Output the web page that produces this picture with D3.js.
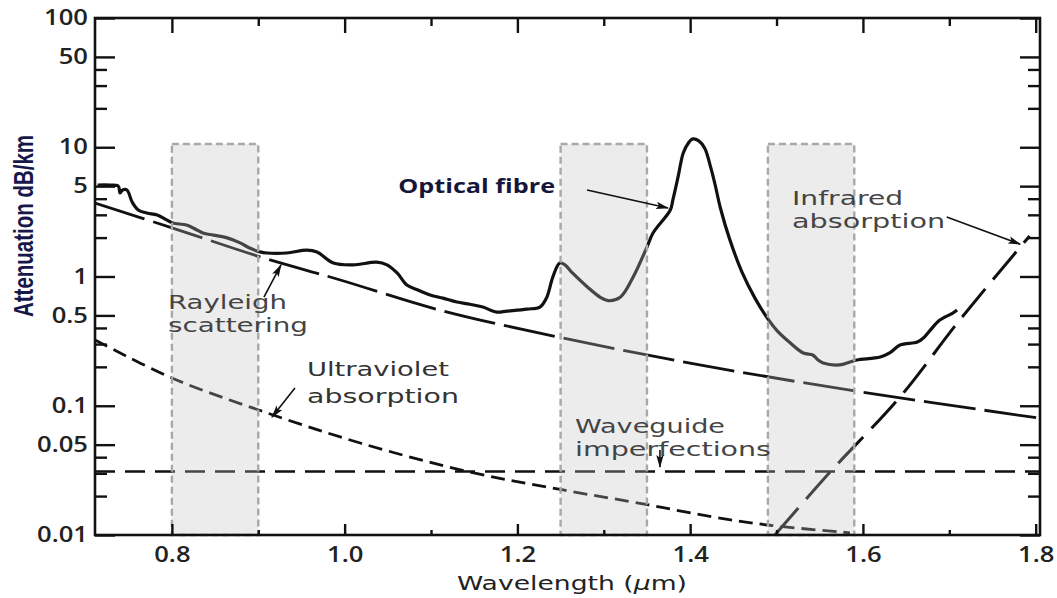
<!DOCTYPE html>
<html>
<head>
<meta charset="utf-8">
<script src="https://cdn.jsdelivr.net/npm/d3@7"></script>
<style>
  html, body { margin: 0; padding: 0; background: #fff; }
  svg { display: block; }
</style>
</head>
<body>
<svg id="chart" width="1057" height="598"></svg>
<script>
// ---- Data: attenuation (dB/km) against wavelength (µm) ----
const fibreWavelength = [0.714, 0.728, 0.738, 0.740, 0.743, 0.748, 0.754, 0.761, 0.771, 0.783,
  0.794, 0.801, 0.817, 0.829, 0.836, 0.848, 0.864, 0.879, 0.890, 0.902,
  0.910, 0.933, 0.956, 0.968, 0.987, 1.010, 1.037, 1.049, 1.061, 1.072,
  1.084, 1.099, 1.114, 1.130, 1.145, 1.160, 1.176, 1.188, 1.211, 1.226,
  1.234, 1.241, 1.249, 1.255, 1.264, 1.281, 1.296, 1.305, 1.319, 1.334,
  1.350, 1.357, 1.377, 1.380, 1.386, 1.392, 1.398, 1.403, 1.410, 1.417,
  1.423, 1.429, 1.435, 1.446, 1.460, 1.475, 1.489, 1.500, 1.516, 1.531,
  1.542, 1.548, 1.554, 1.573, 1.585, 1.593, 1.620, 1.631, 1.643, 1.663,
  1.670, 1.678, 1.689, 1.704, 1.709];
const fibreLoss = [5.1, 5.1, 5.0, 4.43, 4.67, 4.67, 3.77, 3.27, 3.10, 2.99,
  2.74, 2.59, 2.50, 2.29, 2.17, 2.09, 1.99, 1.82, 1.66, 1.55,
  1.52, 1.52, 1.60, 1.55, 1.27, 1.23, 1.29, 1.23, 1.06, 0.86,
  0.79, 0.72, 0.68, 0.635, 0.61, 0.58, 0.53, 0.54, 0.56, 0.58,
  0.69, 0.99, 1.27, 1.23, 1.06, 0.83, 0.69, 0.65, 0.69, 0.99,
  1.69, 2.17, 3.27, 3.91, 5.89, 9.03, 10.8, 11.6, 11.2, 9.8,
  7.3, 5.1, 3.39, 1.92, 1.08, 0.68, 0.48, 0.385, 0.306, 0.256,
  0.247, 0.226, 0.214, 0.207, 0.218, 0.226, 0.238, 0.256, 0.295, 0.311,
  0.334, 0.385, 0.46, 0.52, 0.55];

const rayleighWavelength = [0.711, 0.801, 0.902, 0.995, 1.110, 1.253, 1.411, 1.585, 1.805];
const rayleighLoss = [3.70, 2.37, 1.42, 0.94, 0.55, 0.334, 0.207, 0.132, 0.080];

const uvWavelength = [0.711, 0.800, 0.904, 1.018, 1.145, 1.253, 1.352, 1.426, 1.492, 1.585];
const uvLoss = [0.323, 0.164, 0.091, 0.0515, 0.0307, 0.0223, 0.0171, 0.0138, 0.0119, 0.0104];

const waveguideWavelength = [0.711, 1.805];
const waveguideLoss = [0.031, 0.031];

const irWavelength = [1.498, 1.562, 1.643, 1.712, 1.793];
const irLoss = [0.010, 0.0307, 0.117, 0.46, 2.06];

// transmission windows (µm)
const windowStart = [0.80, 1.25, 1.49];
const windowEnd = [0.90, 1.35, 1.59];
const windowTop = 10.6;

// ticks
const xTicks = [0.8, 1.0, 1.2, 1.4, 1.6, 1.8];
const xTickLabels = ["0.8", "1.0", "1.2", "1.4", "1.6", "1.8"];
const xMinorTicks = [0.9, 1.1, 1.3, 1.5, 1.7];
const yTicks = [100, 50, 10, 5, 1, 0.5, 0.1, 0.05, 0.01];
const yTickLabels = ["100", "50", "10", "5", "1", "0.5", "0.1", "0.05", "0.01"];
const yMinorTicks = [40, 30, 20, 4, 3, 2, 0.4, 0.3, 0.2, 0.04, 0.03, 0.02];

// ---- Drawing ----
const svg = d3.select("#chart");
const W = 1057, H = 598;
const pLeft = 95, pRight = 1040, pTop = 18, pBottom = 535;
const stretch = 1.22;   // wide lettering of the tick labels

svg.append("rect").attr("width", W).attr("height", H).attr("fill", "#fff");

const x = d3.scaleLinear().domain([0.711, 1.805]).range([pLeft, pRight]);
const y = d3.scaleLog().domain([0.01, 100]).range([pBottom, pTop]);

const defs = svg.append("defs");
defs.append("marker")
  .attr("id", "head")
  .attr("viewBox", "0 0 12 8")
  .attr("refX", 11).attr("refY", 4)
  .attr("markerWidth", 13).attr("markerHeight", 9)
  .attr("markerUnits", "userSpaceOnUse")
  .attr("orient", "auto")
  .append("path").attr("d", "M0,0.6 L12,4 L0,7.4 L2.5,4 Z").attr("fill", "#111");
defs.append("clipPath").attr("id", "clip")
  .append("rect").attr("x", pLeft).attr("y", pTop)
  .attr("width", pRight - pLeft).attr("height", pBottom - pTop);

const curve = d3.line()
  .x(d => x(d[0]))
  .y(d => y(d[1]))
  .curve(d3.curveCatmullRom.alpha(0.5));

const straight = d3.line().x(d => x(d[0])).y(d => y(d[1]));

const plot = svg.append("g");
const lines = plot.append("g").attr("clip-path", "url(#clip)");

// waveguide imperfections
lines.append("path")
  .datum(d3.zip(waveguideWavelength, waveguideLoss))
  .attr("d", straight)
  .attr("fill", "none").attr("stroke", "#111").attr("stroke-width", 2.6)
  .attr("stroke-dasharray", "20,10");

// ultraviolet absorption
lines.append("path")
  .datum(d3.zip(uvWavelength, uvLoss))
  .attr("d", curve)
  .attr("fill", "none").attr("stroke", "#111").attr("stroke-width", 2.8)
  .attr("stroke-dasharray", "14,7");

// Rayleigh scattering
lines.append("path")
  .datum(d3.zip(rayleighWavelength, rayleighLoss))
  .attr("d", curve)
  .attr("fill", "none").attr("stroke", "#111").attr("stroke-width", 2.8)
  .attr("stroke-dasharray", "52,9");

// infrared absorption
lines.append("path")
  .datum(d3.zip(irWavelength, irLoss))
  .attr("d", curve)
  .attr("fill", "none").attr("stroke", "#111").attr("stroke-width", 3)
  .attr("stroke-dasharray", "36,12");

// measured fibre loss
lines.append("path")
  .datum(d3.zip(fibreWavelength, fibreLoss))
  .attr("d", curve)
  .attr("fill", "none").attr("stroke", "#111").attr("stroke-width", 3.2)
  .attr("stroke-linejoin", "round");

// transmission windows
const windows = d3.zip(windowStart, windowEnd);
plot.selectAll("rect.window")
  .data(windows).join("rect")
  .attr("class", "window")
  .attr("x", d => x(d[0]))
  .attr("y", y(windowTop))
  .attr("width", d => x(d[1]) - x(d[0]))
  .attr("height", y(0.01) - y(windowTop))
  .attr("fill", "#c0c0c0").attr("fill-opacity", 0.3)
  .attr("stroke", "#a8a8a8").attr("stroke-width", 2.4)
  .attr("stroke-dasharray", "7,4");

// ---- Axes ----
function styleAxis(g) {
  g.select(".domain").remove();
  g.selectAll(".tick line").attr("stroke", "#111").attr("stroke-width", 2.4);
}
const tickFont = "'Open Sans', sans-serif";
const noteFont = "'DejaVu Sans', sans-serif";

// bottom
const xAxisMajor = svg.append("g").attr("transform", `translate(0,${pBottom})`)
  .call(d3.axisBottom(x).tickValues(xTicks).tickSize(-11).tickPadding(12)
    .tickFormat((d, i) => xTickLabels[i]));
styleAxis(xAxisMajor);
xAxisMajor.selectAll(".tick text")
  .attr("font-family", tickFont).attr("font-size", 21).attr("font-weight", 600)
  .attr("fill", "#222").attr("transform", `scale(${stretch},1)`);
const xAxisMinor = svg.append("g").attr("transform", `translate(0,${pBottom})`)
  .call(d3.axisBottom(x).tickValues(xMinorTicks).tickSize(-5).tickFormat(""));
styleAxis(xAxisMinor);

// top
const topMajor = svg.append("g").attr("transform", `translate(0,${pTop})`)
  .call(d3.axisTop(x).tickValues(xTicks).tickSize(-15).tickFormat(""));
styleAxis(topMajor);
const topMinor = svg.append("g").attr("transform", `translate(0,${pTop})`)
  .call(d3.axisTop(x).tickValues(xMinorTicks).tickSize(-8).tickFormat(""));
styleAxis(topMinor);

// left
const yAxisMajor = svg.append("g").attr("transform", `translate(${pLeft},0)`)
  .call(d3.axisLeft(y).tickValues(yTicks).tickSize(-20).tickPadding(7)
    .tickFormat((d, i) => yTickLabels[i]));
styleAxis(yAxisMajor);
yAxisMajor.selectAll(".tick text")
  .attr("font-family", tickFont).attr("font-size", 21).attr("font-weight", 600)
  .attr("fill", "#222")
  .attr("x", 0)
  .attr("transform", `translate(-7,0) scale(${stretch},1)`);
const yAxisMinor = svg.append("g").attr("transform", `translate(${pLeft},0)`)
  .call(d3.axisLeft(y).tickValues(yMinorTicks).tickSize(-12).tickFormat(""));
styleAxis(yAxisMinor);

// right
const rMajor = svg.append("g").attr("transform", `translate(${pRight},0)`)
  .call(d3.axisRight(y).tickValues(yTicks).tickSize(-20).tickFormat(""));
styleAxis(rMajor);
const rMinor = svg.append("g").attr("transform", `translate(${pRight},0)`)
  .call(d3.axisRight(y).tickValues(yMinorTicks).tickSize(-12).tickFormat(""));
styleAxis(rMinor);

// frame
svg.append("rect")
  .attr("x", pLeft).attr("y", pTop).attr("width", pRight - pLeft).attr("height", pBottom - pTop)
  .attr("fill", "none").attr("stroke", "#111").attr("stroke-width", 2.6);

// ---- Titles ----
const xt = svg.append("text")
  .attr("x", 572).attr("y", 590)
  .attr("text-anchor", "middle")
  .attr("font-family", noteFont).attr("font-size", 19).attr("fill", "#222")
  .attr("textLength", 230).attr("lengthAdjust", "spacingAndGlyphs");
xt.append("tspan").text("Wavelength (");
xt.append("tspan").attr("font-style", "italic").text("\u03bc");
xt.append("tspan").text("m)");

svg.append("text")
  .attr("transform", `translate(23,226) scale(${stretch},1) rotate(-90)`)
  .attr("text-anchor", "middle").attr("dominant-baseline", "central")
  .attr("font-family", "'Liberation Sans', Arial, sans-serif")
  .attr("font-weight", "bold").attr("font-size", 23)
  .attr("textLength", 182).attr("lengthAdjust", "spacingAndGlyphs")
  .attr("fill", "#17174a")
  .text("Attenuation dB/km");

// ---- Annotations ----
// one text per line, widened to its run length
function note(str, wl, loss, len, opts = {}) {
  svg.append("text")
    .attr("x", x(wl)).attr("y", y(loss))
    .attr("font-family", opts.family || noteFont)
    .attr("font-size", opts.size || 19)
    .attr("font-weight", opts.weight || 400)
    .attr("fill", opts.fill || "#444")
    .attr("textLength", len).attr("lengthAdjust", "spacingAndGlyphs")
    .text(str);
}
function arrow(a, b) {
  svg.append("line")
    .attr("x1", x(a[0])).attr("y1", y(a[1]))
    .attr("x2", x(b[0])).attr("y2", y(b[1]))
    .attr("stroke", "#111").attr("stroke-width", 1.6)
    .attr("marker-end", "url(#head)");
}

note("Optical fibre", 1.062, 4.4, 157, { family: tickFont, weight: 700, size: 20, fill: "#16163c" });
arrow([1.2806, 4.67], [1.3743, 3.39]);

note("Rayleigh", 0.7955, 0.5607, 119);
note("scattering", 0.7955, 0.3753, 140);
arrow([0.9066, 0.694], [0.9263, 1.23]);

note("Ultraviolet", 0.9564, 0.170, 142, { fill: "#333" });
note("absorption", 0.9564, 0.105, 152, { fill: "#333" });
arrow([0.9425, 0.137], [0.9159, 0.0818]);

note("Waveguide", 1.2667, 0.0615, 150);
note("imperfections", 1.2667, 0.0409, 196);
arrow([1.365, 0.0455], [1.365, 0.0336]);

note("Infrared", 1.518, 3.57, 111);
note("absorption", 1.518, 2.39, 153);
arrow([1.697, 2.89], [1.782, 1.78]);
</script>
</body>
</html>
